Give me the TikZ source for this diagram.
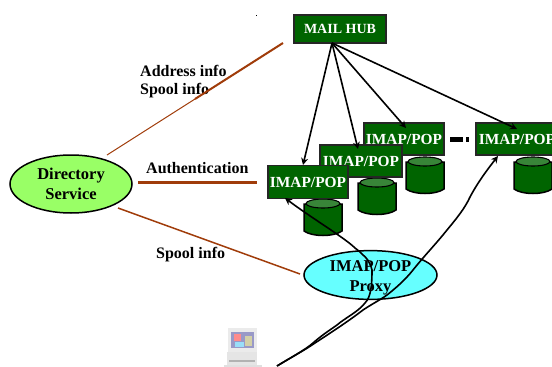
\documentclass[tikz,border=0pt]{standalone}
\usepackage{fontspec}
\setmainfont{Liberation Serif}
\definecolor{boxgreen}{RGB}{0,100,0}
\definecolor{drumtop}{RGB}{56,133,56}
\definecolor{dirgreen}{RGB}{153,255,102}
\definecolor{proxycyan}{RGB}{102,255,255}
\definecolor{linkbrown}{RGB}{160,60,10}
\tikzset{
  serverbox/.style={draw=black!85,line width=1.4pt,fill=boxgreen,text=white,inner sep=0pt,font=\fontsize{15.4}{16}\selectfont\bfseries},
  infoball/.style={ellipse,draw=black,line width=1.5pt,align=center,inner sep=0pt,font=\fontsize{16.5}{20}\selectfont\bfseries},
  infolabel/.style={anchor=west,inner sep=0pt,align=left,font=\fontsize{16}{18}\selectfont\bfseries},
  linkline/.style={draw=linkbrown,line width=1.5pt},
  pushline/.style={draw=black,line width=1.6pt,-{Stealth[length=7pt,width=7pt]}},
}
\usetikzlibrary{shapes.geometric,arrows.meta}
\newcommand{\drumat}[2]{%
\draw [line width=1.5pt,fill=boxgreen] (#1,#2+5) -- (#1,#2+32) .. controls (#1+8,#2+38) and (#1+30,#2+38) .. (#1+38,#2+32) -- (#1+38,#2+5) -- cycle;
\draw [line width=1.1pt,fill=drumtop] (#1+19,#2+4.5) ellipse (17 and 4.5);
}
\begin{document}
\begin{tikzpicture}[x=1pt,y=1pt,yscale=-1,xscale=1]
\clip (0,0) rectangle (552,367);

%Stray dot
\fill (255.5,14.5) rectangle (257,16);

%Drums and boxes, back to front
\drumat{514}{157}
\node [serverbox,minimum width=82pt,minimum height=32pt] (imapfour) at (517,139) {IMAP/POP};
\drumat{406}{157}
\node [serverbox,minimum width=80pt,minimum height=32pt] (imapthree) at (404,139) {IMAP/POP};
\drumat{358}{178}
\node [serverbox,minimum width=82pt,minimum height=32pt] (imaptwo) at (361,161) {IMAP/POP};
\drumat{304}{199}
\node [serverbox,minimum width=80pt,minimum height=33pt] (imapone) at (308,182) {IMAP/POP};
\node [serverbox,minimum width=92pt,minimum height=28pt,font=\fontsize{14}{16}\selectfont\bfseries] (hub) at (340,29) {MAIL HUB};

% Text Node
\node [infoball,fill=dirgreen,minimum width=122pt,minimum height=58pt] (directory) at (71,184) {Directory\\Service};
% Text Node
\node [infoball,fill=proxycyan,minimum width=133pt,minimum height=48pt] (proxy) at (370.5,275) {\raisebox{-3pt}[\height][\depth]{IMAP/POP}\\\raisebox{-3pt}[\height][\depth]{Proxy}};
% Text Node
\node [infolabel] (addresslabel) at (140,81.5) {Address info\\Spool info};
% Text Node
\node [infolabel] (authlabel) at (146,168) {Authentication};
% Text Node
\node [infolabel] (spoollabel) at (156,255) {Spool info};

\coordinate (hubout) at (332,43);
\coordinate (addressend) at (283,43);
\coordinate (addressmid) at (195,99);
\coordinate (authstart) at (138,182.5);
\coordinate (authend) at (257,182.5);
\coordinate (spoolstart) at (118,208);
\coordinate (spoolend) at (300,274);
\coordinate (client) at (277,366);

%Brown links
\draw [linkline,line width=1pt] (107,155) -- (addressmid);
\draw [linkline,line width=2pt] (addressmid) -- (addressend);
\draw [linkline,line width=2.6pt] (authstart) -- (authend);
\draw [linkline] (spoolstart) -- (spoolend);

%Straight Lines from the hub
\draw [pushline] (hubout) -- (303,165);
\draw [pushline] (hubout) -- (358,149);
\draw [pushline] (hubout) -- (406,128);
\draw [pushline] (hubout) -- (517,129);

%Dots between the boxes
\draw [line width=4.5pt,dash pattern=on 13pt off 3pt on 3pt off 3pt] (450,139.5) -- (469,139.5);

%Client lines
\draw [pushline] (client) .. controls (290,358) and (305,350) .. (313,343) .. controls (322,335) and (330,330) .. (337,325) .. controls (345,318) and (358,312) .. (365,303) .. controls (371,297) and (372,285) .. (372,270) .. controls (370,262) and (366,257) .. (363,255) .. controls (360,252) and (358,250) .. (355,248) .. controls (345,238) and (310,217) .. (285,198);
\draw [pushline] (client) .. controls (290,358) and (305,350) .. (315,343) .. controls (335,330) and (350,320) .. (363,310) .. controls (372,304) and (380,300) .. (387,295) .. controls (397,287) and (405,280) .. (413,270) .. controls (425,255) and (435,245) .. (447,230) .. controls (457,218) and (465,208) .. (470,197) .. controls (478,182) and (487,170) .. (498,156);

%Computer
\fill [black!12] (224,365) rectangle (262,367);
\fill [black!10] (227,352) rectangle (257,365);
\fill [black!30] (229,360) rectangle (255,362);
\fill [black!8] (228,328) rectangle (257,352);
\fill [black!55!blue!40] (231,332) rectangle (254,348);
\fill [red!45] (234,334) rectangle (241,341);
\fill [yellow!50!black!40] (245,336) rectangle (252,346);
\fill [cyan!40] (235,342) rectangle (244,347);
\end{tikzpicture}
\end{document}
